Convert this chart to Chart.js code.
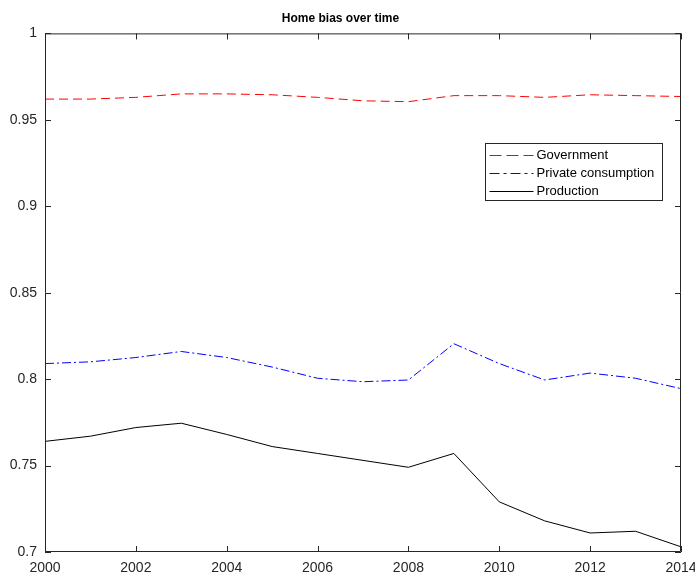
<!DOCTYPE html>
<html>
<head>
<meta charset="utf-8">
<script src="https://cdn.jsdelivr.net/npm/chart.js@4"></script>
<style>
  body { margin: 0; background: #fff; }
  #wrap { width: 695px; height: 577px; }
</style>
</head>
<body>
<div id="wrap"><canvas id="chart"></canvas></div>
<script>
// Data
const years = [2000, 2001, 2002, 2003, 2004, 2005, 2006, 2007, 2008, 2009, 2010, 2011, 2012, 2013, 2014];
const government = [0.962, 0.962, 0.963, 0.965, 0.965, 0.9645, 0.963, 0.961, 0.9605, 0.964, 0.964, 0.963, 0.9645, 0.964, 0.9635];
const privateConsumption = [0.809, 0.810, 0.8125, 0.816, 0.8125, 0.807, 0.8005, 0.7985, 0.7995, 0.8205, 0.809, 0.7995, 0.8035, 0.8005, 0.7945];
const production = [0.764, 0.767, 0.772, 0.7745, 0.768, 0.761, 0.757, 0.753, 0.749, 0.757, 0.729, 0.718, 0.711, 0.712, 0.703];
const seriesNames = ['Government', 'Private consumption', 'Production'];

const axisColor = '#262626';
const FONT = 'Liberation Sans, Arial, sans-serif';

function toPoints(vals) {
    return years.map((y, i) => ({ x: y, y: vals[i] }));
}

// inward ticks on all four sides plus the box, like the original
const boxTicks = {
    id: 'boxTicks',
    afterDraw(chart) {
        const ctx = chart.ctx;
        const a = chart.chartArea;
        const xs = chart.scales.x;
        const ys = chart.scales.y;
        ctx.save();
        ctx.strokeStyle = axisColor;
        ctx.lineWidth = 1;
        ctx.beginPath();
        ctx.rect(a.left + 0.5, a.top + 0.5, a.right - a.left - 1, a.bottom - a.top - 1);
        xs.ticks.forEach(t => {
            const px = Math.round(xs.getPixelForValue(t.value)) + 0.5;
            ctx.moveTo(px, a.bottom); ctx.lineTo(px, a.bottom - 6);
            ctx.moveTo(px, a.top); ctx.lineTo(px, a.top + 6);
        });
        ys.ticks.forEach(t => {
            const py = Math.round(ys.getPixelForValue(t.value)) + 0.5;
            ctx.moveTo(a.left, py); ctx.lineTo(a.left + 6, py);
            ctx.moveTo(a.right, py); ctx.lineTo(a.right - 6, py);
        });
        ctx.stroke();
        ctx.restore();
    }
};

// legend box drawn inside the plot, top right
const insideLegend = {
    id: 'insideLegend',
    afterDraw(chart) {
        const ctx = chart.ctx;
        const x0 = 485.5, y0 = 143.5, w = 177, h = 57;
        ctx.save();
        ctx.fillStyle = '#fff';
        ctx.fillRect(x0, y0, w, h);
        ctx.strokeStyle = axisColor;
        ctx.lineWidth = 1;
        ctx.strokeRect(x0, y0, w, h);
        ctx.font = '13px ' + FONT;
        ctx.textBaseline = 'middle';
        chart.data.datasets.forEach((ds, i) => {
            const yy = y0 + 11 + i * 18;
            ctx.strokeStyle = ds.borderColor;
            ctx.setLineDash(ds.legendDash || []);
            ctx.beginPath();
            ctx.moveTo(x0 + 4, Math.round(yy) + 0.5);
            ctx.lineTo(x0 + 48, Math.round(yy) + 0.5);
            ctx.stroke();
            ctx.setLineDash([]);
            ctx.fillStyle = '#000';
            ctx.fillText(ds.label, x0 + 51, yy + 1);
        });
        ctx.restore();
    }
};

const chart = new Chart(document.getElementById('chart'), {
    type: 'line',
    data: {
        datasets: [
            {
                label: seriesNames[0],
                data: toPoints(government),
                borderColor: '#ff0000',
                borderDash: [9, 5],
                legendDash: [12, 5],
                borderWidth: 1,
                pointRadius: 0,
                tension: 0
            },
            {
                label: seriesNames[1],
                data: toPoints(privateConsumption),
                borderColor: '#0000ff',
                borderDash: [9, 3, 2, 3],
                legendDash: [10, 4, 3, 4],
                borderWidth: 1,
                pointRadius: 0,
                tension: 0
            },
            {
                label: seriesNames[2],
                data: toPoints(production),
                borderColor: '#000000',
                borderWidth: 1,
                pointRadius: 0,
                tension: 0
            }
        ]
    },
    options: {
        responsive: true,
        maintainAspectRatio: false,
        animation: false,
        layout: { padding: { left: 0, right: 14, top: 0, bottom: 0 } },
        plugins: {
            legend: { display: false },
            tooltip: { enabled: false },
            title: {
                display: true,
                text: 'Home bias over time',
                color: '#000',
                font: { family: FONT, size: 12, weight: 'bold' },
                padding: { top: 11, bottom: 8 }
            }
        },
        scales: {
            x: {
                type: 'linear',
                min: 2000,
                max: 2014,
                ticks: {
                    stepSize: 2,
                    color: '#262626',
                    font: { family: FONT, size: 14 },
                    padding: 8,
                    maxRotation: 0,
                    callback: v => String(v)
                },
                grid: { drawOnChartArea: false, drawTicks: false },
                border: { display: false },
                afterFit: s => {
                    s.height = 25;
                    s.paddingLeft = 0;
                    s.paddingRight = 0;
                }
            },
            y: {
                min: 0.7,
                max: 1,
                ticks: {
                    stepSize: 0.05,
                    color: '#262626',
                    font: { family: FONT, size: 14 },
                    padding: 8,
                    callback: v => String(Number(v.toFixed(2)))
                },
                grid: { drawOnChartArea: false, drawTicks: false },
                border: { display: false },
                afterFit: s => {
                    s.width = 45;
                    s.paddingTop = 0;
                    s.paddingBottom = 0;
                }
            }
        }
    },
    plugins: [boxTicks, insideLegend]
});
</script>
</body>
</html>
